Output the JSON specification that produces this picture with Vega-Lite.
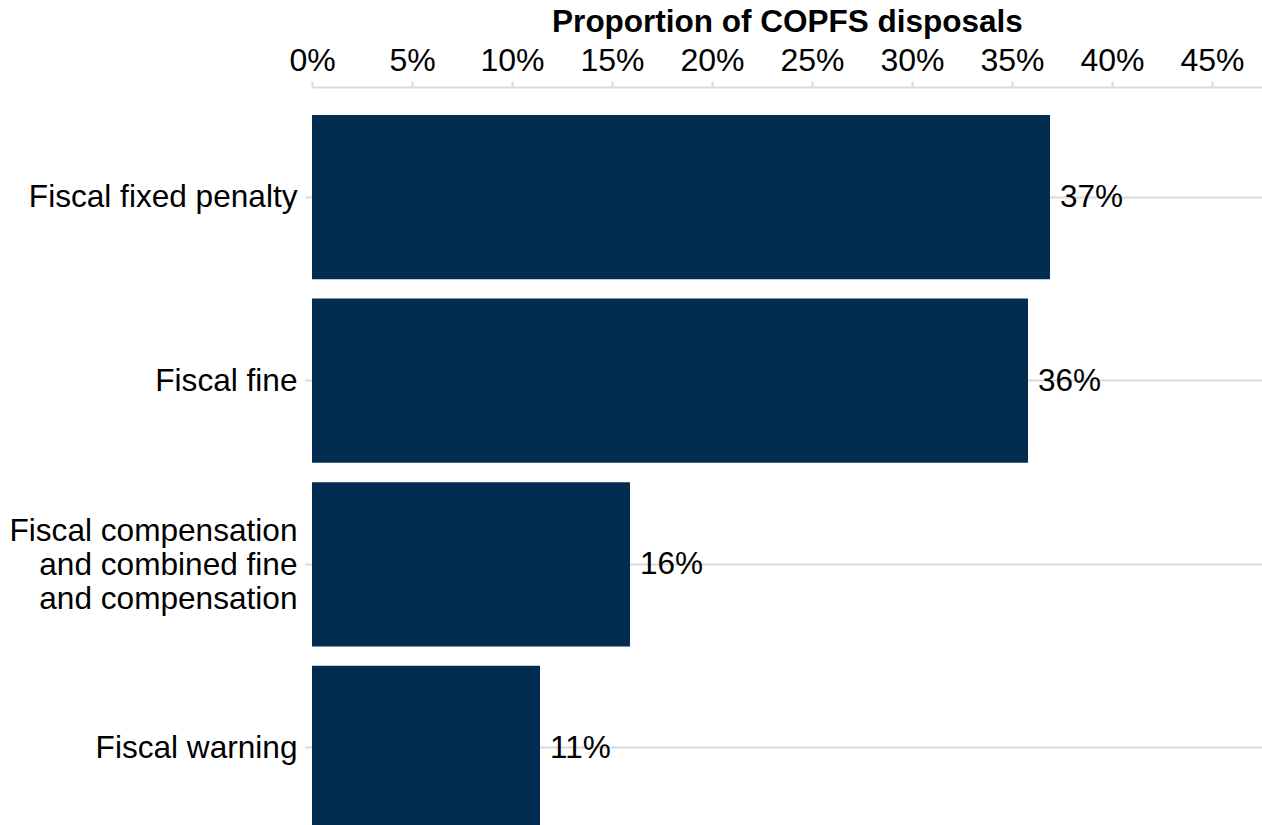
{
  "$schema": "https://vega.github.io/schema/vega-lite/v6.json",
  "width": 950,
  "height": 771,
  "autosize": {"type": "none"},
  "padding": {"left": 312, "top": 87, "right": 0, "bottom": 0},
  "background": "white",
  "config": {
    "view": {"stroke": null},
    "font": "Liberation Sans"
  },
  "data": {
    "values": [
      {"category": "Fiscal fixed penalty", "value": 0.369},
      {"category": "Fiscal fine", "value": 0.358},
      {"category": "Fiscal compensation and combined fine and compensation", "value": 0.159},
      {"category": "Fiscal warning", "value": 0.114}
    ]
  },
  "encoding": {
    "y": {
      "field": "category",
      "type": "nominal",
      "sort": null,
      "scale": {"paddingInner": 0.105, "paddingOuter": 0.153},
      "axis": {
        "title": null,
        "domain": false,
        "grid": true,
        "gridColor": "#d9d9d9",
        "gridWidth": 2,
        "tickColor": "#d9d9d9",
        "tickWidth": 2,
        "tickSize": 7,
        "labelFontSize": 31.6,
        "labelColor": "#000000",
        "labelPadding": 8,
        "labelLimit": 400,
        "labelLineHeight": 34,
        "labelOffset": {"condition": {"test": "datum.value == 'Fiscal compensation and combined fine and compensation'", "value": -32}, "value": 1},
        "labelExpr": "datum.label == 'Fiscal compensation and combined fine and compensation' ? ['Fiscal compensation', 'and combined fine', 'and compensation'] : datum.label"
      }
    }
  },
  "layer": [
    {
      "mark": {"type": "bar", "color": "#022d51"},
      "encoding": {
        "x": {
          "field": "value",
          "type": "quantitative",
          "scale": {"domain": [0, 0.475], "nice": false},
          "axis": {
            "orient": "top",
            "title": "Proportion of COPFS disposals",
            "titleFontSize": 31.5,
            "titleFontWeight": "bold",
            "titleColor": "#000000",
            "titlePadding": 6,
            "format": ".0%",
            "values": [0, 0.05, 0.1, 0.15, 0.2, 0.25, 0.3, 0.35, 0.4, 0.45],
            "grid": false,
            "domainColor": "#d9d9d9",
            "domainWidth": 2,
            "tickColor": "#d9d9d9",
            "tickWidth": 2,
            "tickSize": 6,
            "labelFontSize": 32,
            "labelColor": "#000000",
            "labelPadding": 4,
            "labelFlush": false
          }
        }
      }
    },
    {
      "mark": {"type": "text", "align": "left", "baseline": "middle", "dx": 10, "dy": 1, "fontSize": 31.5, "color": "#000000"},
      "encoding": {
        "x": {"field": "value", "type": "quantitative"},
        "text": {"field": "value", "type": "quantitative", "format": ".0%"}
      }
    }
  ]
}
